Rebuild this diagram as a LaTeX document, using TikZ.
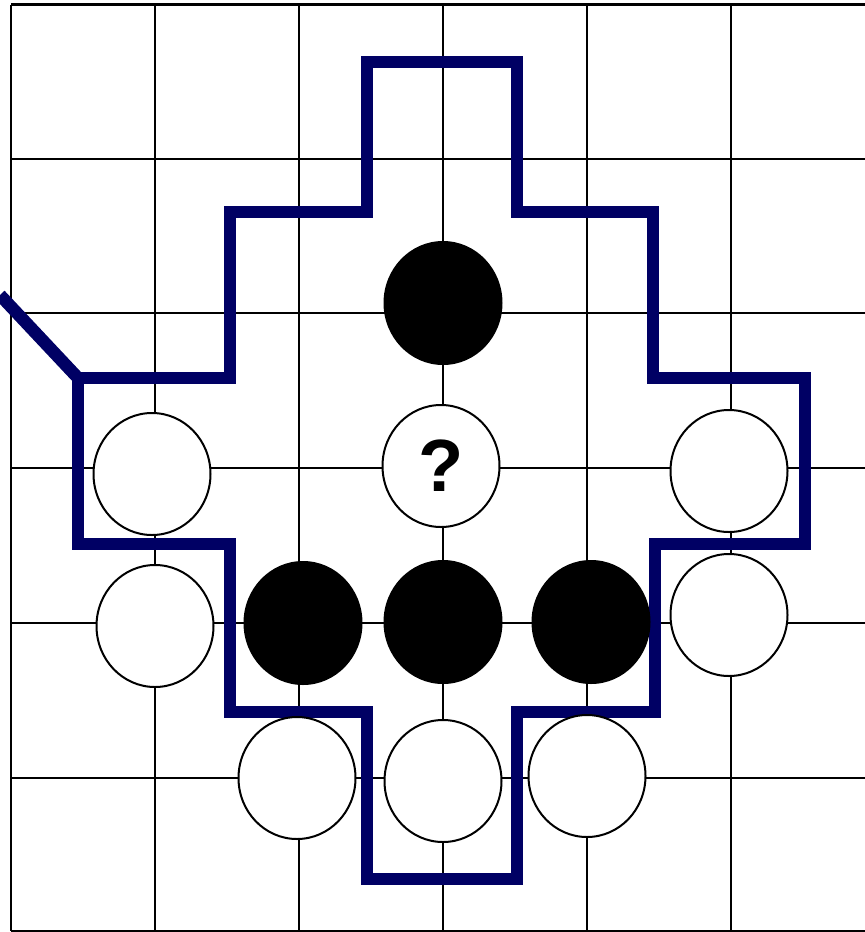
\documentclass[tikz,border=0pt]{standalone}
\usepackage{fontspec}
\setsansfont{Liberation Sans}
\usepackage{xcolor}
\definecolor{navyline}{RGB}{0,0,100}
\usepackage{tikz}
\usetikzlibrary{shapes.geometric}
\tikzset{
  gridline/.style={line width=2.2pt,draw=black},
  stone_w/.style={ellipse,draw=black,fill=white,line width=2pt,
    minimum width=117pt,minimum height=122pt,inner sep=0pt,
    font=\sffamily\bfseries\fontsize{74}{74}\selectfont},
  stone_b/.style={ellipse,draw=black,fill=black,line width=2pt,
    minimum width=117pt,minimum height=122pt,inner sep=0pt},
  border/.style={line width=12.5pt,draw=navyline,line join=miter},
}

\begin{document}
\begin{tikzpicture}[x=1pt,y=-1pt]
  \useasboundingbox (0,0) rectangle (865,932);
  % board
  \foreach \yy in {4.5,159,313,468,623,778,931}
    \draw[gridline] (11,\yy) -- (865,\yy);
  \foreach \xx in {11,155,299,443,587,731}
    \draw[gridline] (\xx,4.5) -- (\xx,931);
  % outline of the group
  \draw[border] (78,378) -- (230,378) -- (230,212)
    -- (367,212) -- (367,62) -- (517,62) -- (517,212) -- (653,212)
    -- (653,378) -- (805,378) -- (805,544) -- (655,544) -- (655,712)
    -- (517,712) -- (517,879) -- (367,879) -- (367,712) -- (230,712)
    -- (230,544) -- (78,544) -- cycle;
  \draw[border] (0,295) -- (78,378);
  % black stones
  \node (b1) [stone_b] at (443,303) {};
  \node (b2) [stone_b] at (303,623) {};
  \node (b3) [stone_b] at (443,622) {};
  \node (b4) [stone_b] at (591,622) {};
  % white stones
  \node (q)  [stone_w] at (441,466) {?};
  \node (w1) [stone_w] at (152,474) {};
  \node (w2) [stone_w] at (729,471) {};
  \node (w3) [stone_w] at (155,626) {};
  \node (w4) [stone_w] at (729,615) {};
  \node (w5) [stone_w] at (297,778) {};
  \node (w6) [stone_w] at (443,781) {};
  \node (w7) [stone_w] at (587,776) {};
\end{tikzpicture}
\end{document}
